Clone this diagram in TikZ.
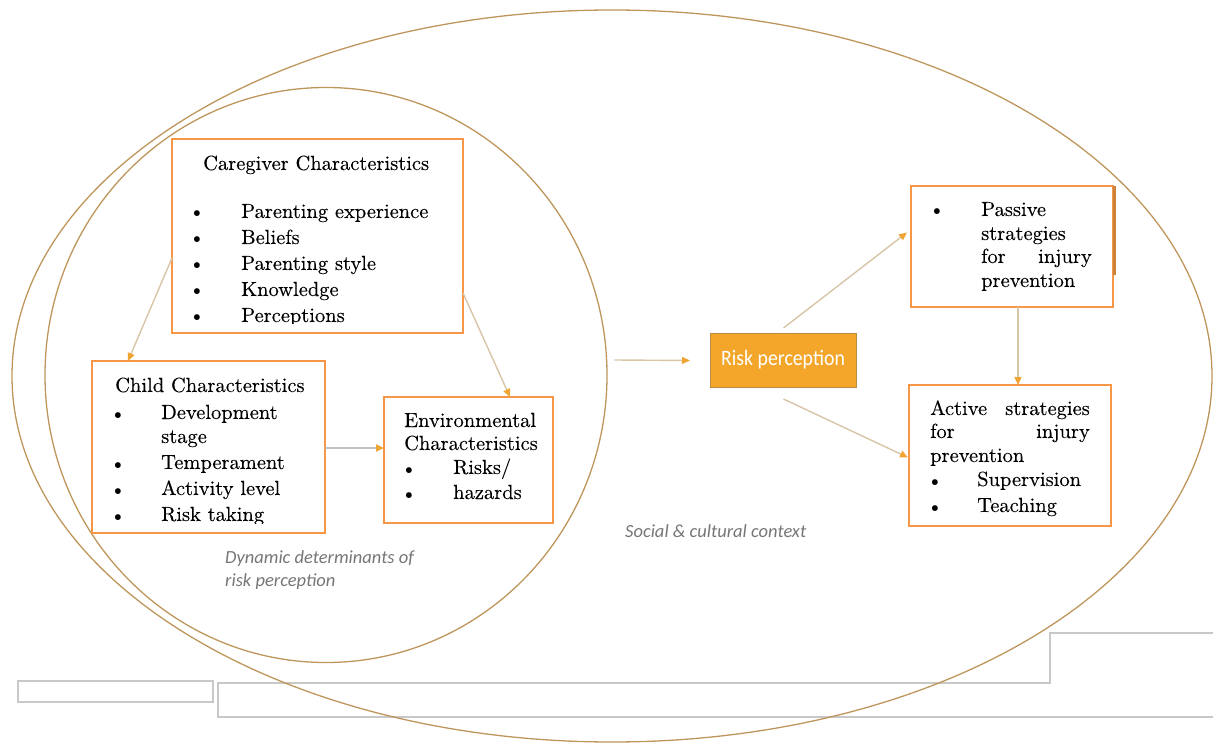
\documentclass[tikz,border=0pt]{standalone}
\usepackage{fontspec}
\newfontfamily\bodyfont{lmroman10-regular.otf}[FakeBold=0.2]
\newfontfamily\riskfont[FakeStretch=0.9]{Carlito}
\newfontfamily\notefont{Carlito}
\usetikzlibrary{arrows.meta,shapes.geometric,calc}
\definecolor{ringc}{RGB}{190,150,92}
\definecolor{boxline}{RGB}{247,150,70}
\definecolor{linkc}{RGB}{216,196,166}
\definecolor{tipc}{RGB}{240,165,50}
\definecolor{riskfill}{RGB}{243,166,42}
\definecolor{riskline}{RGB}{185,140,70}
\definecolor{notec}{RGB}{118,118,118}
\definecolor{framec}{RGB}{200,200,200}
\definecolor{greyarrow}{RGB}{192,192,192}
\definecolor{edgeshade}{RGB}{205,130,60}

\begin{document}
\begin{tikzpicture}[x=1pt,y=-1pt,
  ringnode/.style={ellipse,draw=ringc,line width=1.3pt,inner sep=0pt,outer sep=0pt},
  card/.style={rectangle,draw=boxline,line width=1.8pt,inner sep=0pt,outer sep=0pt,anchor=north west},
  body/.style={anchor=base west,inner sep=0pt,font=\bodyfont\fontsize{20.5}{26}\selectfont},
  bodyr/.style={anchor=base east,inner sep=0pt,font=\bodyfont\fontsize{20.5}{26}\selectfont},
  dot/.style={anchor=base,inner sep=0pt,yshift=-3pt,font=\fontsize{26}{26}\selectfont},
  note/.style={anchor=base west,inner sep=0pt,text=notec,font=\notefont\itshape\fontsize{18.5}{22}\selectfont},
  link/.style={draw=linkc,line width=1.4pt,-{Triangle[length=8pt,width=7pt,color=tipc]}},
  framepath/.style={draw=framec,line width=1.3pt}
]
\useasboundingbox (0,0) rectangle (1213,743);

% outer page frames
\draw[framepath] (18,681) rectangle (213,702);
\draw[framepath] (1213,633) -- (1050,633) -- (1050,683) -- (218,683) -- (218,717) -- (1213,717);

% context rings
\node[ringnode,minimum width=1200pt,minimum height=732pt] (outer) at (612,376) {};
\node[ringnode,minimum width=562pt,minimum height=575pt] (inner) at (326,375) {};

% caregiver box
\node[card,minimum width=291pt,minimum height=194pt] (care) at (172,139) {};
\node[body] (careT) at (203,170) {Caregiver Characteristics};
\node[dot] (cb1) at (197,218) {\textbullet};
\node[body] (c1) at (241,218) {Parenting experience};
\node[dot] (cb2) at (197,244) {\textbullet};
\node[body] (c2) at (241,244) {Beliefs};
\node[dot] (cb3) at (197,270) {\textbullet};
\node[body] (c3) at (241,270) {Parenting style};
\node[dot] (cb4) at (197,296) {\textbullet};
\node[body] (c4) at (241,296) {Knowledge};
\node[dot] (cb5) at (197,322) {\textbullet};
\begin{scope}
\clip (0,0) rectangle (1213,324);
\node[body] (c5) at (241,322) {Perceptions};
\end{scope}

% child box
\node[card,minimum width=233pt,minimum height=172pt] (child) at (92,361) {};
\node[body] (childT) at (115,392) {Child Characteristics};
\node[dot] (hb1) at (118,419) {\textbullet};
\node[body] (h1) at (161,419) {Development};
\node[body] (h1b) at (161,443) {stage};
\node[dot] (hb2) at (118,469) {\textbullet};
\node[body] (h2) at (161,469) {Temperament};
\node[dot] (hb3) at (118,495) {\textbullet};
\node[body] (h3) at (161,495) {Activity level};
\node[dot] (hb4) at (118,521) {\textbullet};
\begin{scope}
\clip (0,0) rectangle (1213,523);
\node[body] (h4) at (161,521) {Risk taking};
\end{scope}

% environment box
\node[card,minimum width=169pt,minimum height=126pt] (env) at (384,397) {};
\node[body] (envT1) at (404,427) {Environmental};
\node[body] (envT2) at (404,450) {Characteristics};
\node[dot] (eb1) at (409,474) {\textbullet};
\node[body] (e1) at (453,474) {Risks/};
\node[dot] (eb2) at (409,499) {\textbullet};
\node[body] (e2) at (453,499) {hazards};

% risk perception
\node[rectangle,draw=riskline,line width=1pt,fill=riskfill,anchor=north west,
      minimum width=146pt,minimum height=54pt,inner sep=0pt] (risk) at (710,333) {};
\node[text=white,inner sep=0pt,font=\riskfont\fontsize{22}{26}\selectfont] (riskT) at (783,360) {Risk perception};

% passive strategies
\node[card,minimum width=202pt,minimum height=121pt] (passive) at (911,186) {};
\draw[draw=edgeshade,line width=2.4pt] ([xshift=1.6pt]passive.north east) -- ++(0,-89pt);
\node[dot] (pb1) at (937,216) {\textbullet};
\node[body] (p1) at (981,216) {Passive};
\node[body] (p2) at (981,240) {strategies};
\node[body] (p3a) at (981,263) {for};
\node[bodyr] (p3b) at (1092,263) {injury};
\node[body] (p4) at (981,287) {prevention};

% active strategies
\node[card,minimum width=202pt,minimum height=141pt] (active) at (909,385) {};
\node[body] (a1a) at (930,415) {Active};
\node[bodyr] (a1b) at (1090,415) {strategies};
\node[body] (a2a) at (930,438) {for};
\node[bodyr] (a2b) at (1090,438) {injury};
\node[body] (a3) at (930,462) {prevention};
\node[dot] (ab1) at (935,486) {\textbullet};
\node[body] (a4) at (977,486) {Supervision};
\node[dot] (ab2) at (935,512) {\textbullet};
\node[body] (a5) at (977,512) {Teaching};

% ring labels
\node[note] (dynA) at (225,563) {Dynamic determinants of};
\node[note] (dynB) at (225,586) {risk perception};
\node[note] (social) at (625,537) {Social \& cultural context};

% connectors
\draw[link] ([yshift=-22pt]care.west) -- ([xshift=36pt]child.north west);
\draw[link] ([yshift=-57pt]care.east) -- ([xshift=126pt]env.north west);
\draw[draw=greyarrow,line width=2.4pt,-{Triangle[length=8pt,width=7pt,color=tipc]}]
  ([yshift=-1pt]child.east) -- ([yshift=12pt]env.west);
\draw[link] ([xshift=7pt,yshift=15pt]inner.east) -- ([xshift=-20pt]risk.west);
\draw[link] ([yshift=5pt]risk.north) -- ([xshift=-4pt,yshift=14pt]passive.west);
\draw[link] ([yshift=-11pt]risk.south) -- ([xshift=-1pt,yshift=-2pt]active.west);
\draw[link] ([xshift=-95pt]passive.south east) -- ([xshift=-93pt]active.north east);
\end{tikzpicture}
\end{document}
